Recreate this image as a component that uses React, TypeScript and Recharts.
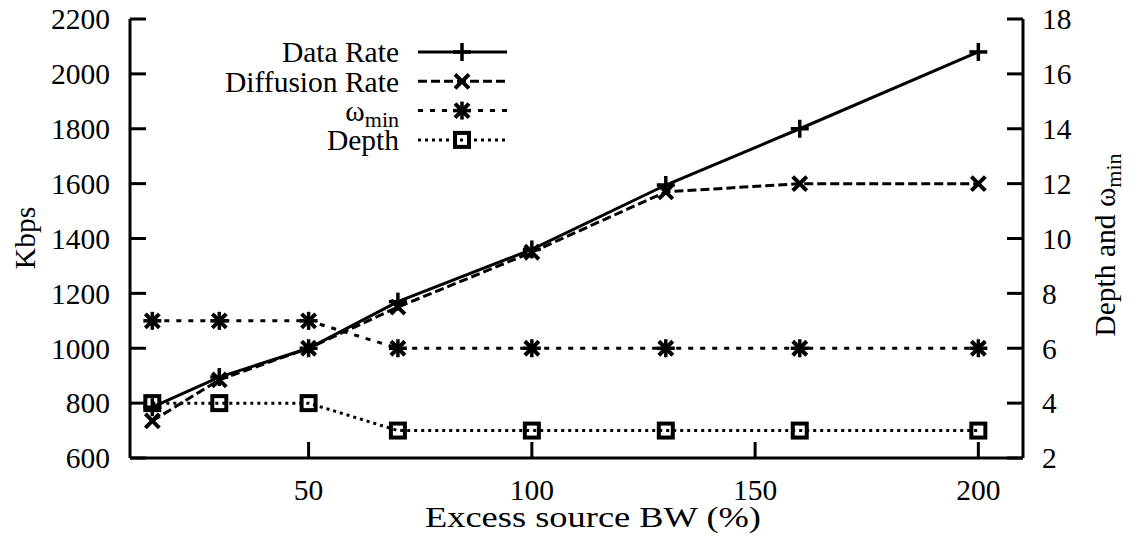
import React from 'react';
import { ComposedChart, Line, XAxis, YAxis, Legend, Label } from 'recharts';

// ---- data ----
const excessBW = [15, 30, 50, 70, 100, 130, 160, 200];
const dataRate = [785, 895, 1000, 1170, 1360, 1595, 1800, 2080];
const diffusionRate = [735, 885, 1000, 1150, 1350, 1570, 1600, 1600];
const omegaMin = [7, 7, 7, 6, 6, 6, 6, 6];
const depth = [4, 4, 4, 3, 3, 3, 3, 3];

const xTicks = [50, 100, 150, 200];
const leftTicks = [600, 800, 1000, 1200, 1400, 1600, 1800, 2000, 2200];
const rightTicks = [2, 4, 6, 8, 10, 12, 14, 16, 18];

const rows = excessBW.map((x, i) => ({
  x,
  dataRate: dataRate[i],
  diffusionRate: diffusionRate[i],
  omegaMin: omegaMin[i],
  depth: depth[i],
}));

// ---- style ----
const W = 1138;
const H = 546;
const FONT = "'Liberation Serif', 'Times New Roman', Times, serif";
const FS = 29.5;
const SUB = 22;
const TICK_LEN = 16;
const LW = 3;

type Kind = 'plus' | 'cross' | 'star' | 'square';

function Marker({ kind, cx, cy }: { kind: Kind; cx: number; cy: number }) {
  const st = { stroke: '#000', strokeWidth: 3.5, fill: 'none' };
  const p = 9;
  const c = 7;
  if (kind === 'plus') {
    return (
      <g>
        <line x1={cx - p} x2={cx + p} y1={cy} y2={cy} {...st} />
        <line x1={cx} x2={cx} y1={cy - p} y2={cy + p} {...st} />
      </g>
    );
  }
  if (kind === 'cross') {
    return (
      <g>
        <line x1={cx - c} x2={cx + c} y1={cy - c} y2={cy + c} {...st} strokeWidth={4} />
        <line x1={cx - c} x2={cx + c} y1={cy + c} y2={cy - c} {...st} strokeWidth={4} />
      </g>
    );
  }
  if (kind === 'star') {
    return (
      <g>
        <line x1={cx - c} x2={cx + c} y1={cy - c} y2={cy + c} {...st} strokeWidth={4} />
        <line x1={cx - c} x2={cx + c} y1={cy + c} y2={cy - c} {...st} strokeWidth={4} />
        <line x1={cx - p} x2={cx + p} y1={cy} y2={cy} {...st} />
        <line x1={cx} x2={cx} y1={cy - p} y2={cy + p} {...st} />
      </g>
    );
  }
  return <rect x={cx - 7} y={cy - 7} width={14} height={14} {...st} strokeWidth={4} />;
}

const dotFor = (kind: Kind) => (props: any) => (
  <g key={`${kind}-${props.index}`}>
    <Marker kind={kind} cx={props.cx} cy={props.cy} />
  </g>
);

const textStyle: any = { style: { fontFamily: FONT, fontSize: FS }, fill: '#000' };

const BottomTick = (p: any) => (
  <g>
    <line x1={p.x} x2={p.x} y1={p.y} y2={p.y - TICK_LEN} stroke="#000" strokeWidth={LW} />
    <text x={p.x} y={p.y + 32} dy="0.35em" textAnchor="middle" {...textStyle}>
      {p.payload.value}
    </text>
  </g>
);

const TopTick = (p: any) => (
  <line x1={p.x} x2={p.x} y1={p.y} y2={p.y + TICK_LEN} stroke="#000" strokeWidth={LW} />
);

const LeftTick = (p: any) => (
  <g>
    <line x1={p.x} x2={p.x + TICK_LEN} y1={p.y} y2={p.y} stroke="#000" strokeWidth={LW} />
    <text x={p.x - 20} y={p.y} dy="0.35em" textAnchor="end" {...textStyle}>
      {p.payload.value}
    </text>
  </g>
);

const RightTick = (p: any) => (
  <g>
    <line x1={p.x} x2={p.x - TICK_LEN} y1={p.y} y2={p.y} stroke="#000" strokeWidth={LW} />
    <text x={p.x + 19} y={p.y} dy="0.35em" textAnchor="start" {...textStyle}>
      {p.payload.value}
    </text>
  </g>
);

const legendItems: { label: string; sub?: string; kind: Kind; dash?: string }[] = [
  { label: 'Data Rate', kind: 'plus' },
  { label: 'Diffusion Rate', kind: 'cross', dash: '9 4' },
  { label: 'ω', sub: 'min', kind: 'star', dash: '5 7' },
  { label: 'Depth', kind: 'square', dash: '3 4' },
];

const LegendContent = () => (
  <svg width={560} height={170} style={{ display: 'block' }}>
    {legendItems.map((it, i) => {
      const y = 52 + i * 29.3;
      return (
        <g key={it.label}>
          <text x={399} y={y} dy="0.35em" textAnchor="end" {...textStyle}>
            {it.label}
            {it.sub ? (
              <tspan dy={6} style={{ fontSize: SUB }}>
                {it.sub}
              </tspan>
            ) : null}
          </text>
          <line
            x1={418}
            x2={507}
            y1={y}
            y2={y}
            stroke="#000"
            strokeWidth={LW}
            strokeDasharray={it.dash}
          />
          <Marker kind={it.kind} cx={462} cy={y} />
        </g>
      );
    })}
  </svg>
);

export default function App() {
  return (
    <div style={{ position: 'absolute', left: 0, top: 0, width: W, height: H, background: '#fff' }}>
      <ComposedChart width={W} height={H} data={rows} margin={{ top: 19, right: 0, bottom: 0, left: 0 }}>
        <XAxis
          dataKey="x"
          type="number"
          domain={[10, 210]}
          ticks={xTicks}
          interval={0}
          height={88}
          tickLine={false}
          tickSize={0}
          tickMargin={0}
          axisLine={{ stroke: '#000', strokeWidth: LW }}
          tick={BottomTick}
        >
          <Label
            content={() => (
              <text
                x={425}
                y={517}
                dy="0.35em"
                textAnchor="start"
                textLength={336}
                lengthAdjust="spacingAndGlyphs"
                {...textStyle}
              >
                Excess source BW (%)
              </text>
            )}
          />
        </XAxis>
        <XAxis
          xAxisId="top"
          orientation="top"
          dataKey="x"
          type="number"
          domain={[10, 210]}
          ticks={xTicks}
          interval={0}
          height={0}
          tickLine={false}
          tickSize={0}
          tickMargin={0}
          axisLine={{ stroke: '#000', strokeWidth: LW }}
          tick={TopTick}
        />
        <YAxis
          yAxisId="left"
          type="number"
          domain={[600, 2200]}
          ticks={leftTicks}
          interval={0}
          width={130}
          tickLine={false}
          tickSize={0}
          tickMargin={0}
          axisLine={{ stroke: '#000', strokeWidth: LW }}
          tick={LeftTick}
        >
          <Label
            content={() => (
              <text
                x={25}
                y={238}
                dy="0.35em"
                textAnchor="middle"
                transform="rotate(-90 25 238)"
                {...textStyle}
              >
                Kbps
              </text>
            )}
          />
        </YAxis>
        <YAxis
          yAxisId="right"
          orientation="right"
          type="number"
          domain={[2, 18]}
          ticks={rightTicks}
          interval={0}
          width={115}
          tickLine={false}
          tickSize={0}
          tickMargin={0}
          axisLine={{ stroke: '#000', strokeWidth: LW }}
          tick={RightTick}
        >
          <Label
            content={() => (
              <text
                x={1105}
                y={245}
                dy="0.35em"
                textAnchor="middle"
                transform="rotate(-90 1105 245)"
                {...textStyle}
              >
                Depth and ω
                <tspan dy={6} style={{ fontSize: SUB }}>
                  min
                </tspan>
              </text>
            )}
          />
        </YAxis>
        <Legend
          layout="vertical"
          align="center"
          verticalAlign="middle"
          wrapperStyle={{ position: 'absolute', left: 0, top: 0, width: 560, height: 170 }}
          content={LegendContent}
        />
        <Line
          yAxisId="left"
          dataKey="dataRate"
          stroke="#000"
          strokeWidth={LW}
          dot={dotFor('plus')}
          activeDot={false}
          isAnimationActive={false}
        />
        <Line
          yAxisId="left"
          dataKey="diffusionRate"
          stroke="#000"
          strokeWidth={LW}
          strokeDasharray="9 4"
          dot={dotFor('cross')}
          activeDot={false}
          isAnimationActive={false}
        />
        <Line
          yAxisId="right"
          dataKey="omegaMin"
          stroke="#000"
          strokeWidth={LW}
          strokeDasharray="5 7"
          dot={dotFor('star')}
          activeDot={false}
          isAnimationActive={false}
        />
        <Line
          yAxisId="right"
          dataKey="depth"
          stroke="#000"
          strokeWidth={LW}
          strokeDasharray="3 4"
          dot={dotFor('square')}
          activeDot={false}
          isAnimationActive={false}
        />
      </ComposedChart>
    </div>
  );
}
